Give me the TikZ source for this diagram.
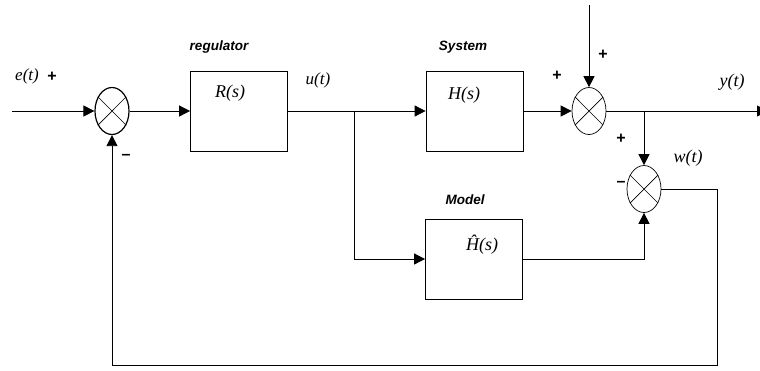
\documentclass[tikz,border=0pt]{standalone}
\usepackage{fontspec}
\setmainfont{Liberation Serif}
\newfontfamily\lsans{Liberation Sans}
\usetikzlibrary{arrows.meta,shapes.geometric}
\tikzset{
  blk/.style={draw,minimum width=97pt,minimum height=80pt,inner sep=0pt,line width=.8pt},
  sum/.style={draw,ellipse,minimum width=34pt,minimum height=47pt,inner sep=0pt,line width=.7pt},
  sig/.style={-{Triangle[length=11pt,width=11pt]},line width=.8pt},
  tf/.style={font=\fontsize{18}{20}\selectfont\itshape,inner sep=0pt},
  var/.style={font=\fontsize{17}{19}\selectfont\itshape,inner sep=0pt},
  tag/.style={font=\lsans\fontsize{13.5}{15}\selectfont\bfseries\itshape,inner sep=0pt},
  sgn/.style={font=\lsans\fontsize{16}{18}\selectfont\bfseries,inner sep=0pt}
}
\begin{document}
\begin{tikzpicture}[x=1pt,y=-1pt]
   \useasboundingbox (0,0) rectangle (760,370);

   % blocks and summing points
   \node[blk] (R) at (239,111) {};
   \node[blk] (H) at (474.5,111) {};
   \node[blk] (Hm) at (474,259) {};
   \node[sum,line width=1.2pt] (s1) at (112,111) {};
   \node[sum] (s2) at (589,111) {};
   \node[sum] (s3) at (644,189) {};
   \foreach \s in {s1,s2,s3}
     \draw[line width=.7pt] (\s.45) -- (\s.225) (\s.135) -- (\s.315);

   \coordinate (in) at (12,111);
   \coordinate (br) at (354,111);
   \coordinate (dist) at (589,5);
   \coordinate (out) at (768,111);
   \coordinate (yb) at (644,111);
   \coordinate (fb) at (717,365);

   % signal lines
   \draw[sig] (in) -- (s1);
   \draw[sig] (s1) -- (R);
   \draw[sig] (R) -- (H);
   \draw[sig] (br) |- (Hm);
   \draw[sig] (H) -- (s2);
   \draw[sig] (dist) -- (s2);
   \draw[sig] (s2) -- (out);
   \draw[sig] (yb) -- (s3);
   \draw[sig] (Hm) -| (s3);
   \draw[sig] (s3) -| (fb) -| (s1);

   % labels
   \node[var] (e) at (27,76) {e(t)};
   \node[sgn] (pe) at (52,77) {+};
   \node[sgn] (m1) at (126,157) {–};
   \node[tag] (treg) at (219,47) {regulator};
   \node[tf] (tR) at (230,93) {R(s)};
   \node[var] (u) at (318,80) {u(t)};
   \node[tag] (tsys) at (463,47) {System};
   \node[tf] (tH) at (464,95) {H(s)};
   \node[tag] (tmod) at (465,200) {Model};
   \node[tf] (tHm) at (482,245) {Ĥ(s)};
   \node[sgn] (p2a) at (557,76) {+};
   \node[sgn] (p2b) at (603,55) {+};
   \node[tf] (y) at (732,82) {y(t)};
   \node[sgn] (p3) at (621,139) {+};
   \node[tf] (w) at (688,158) {w(t)};
   \node[sgn] (m3) at (621,184) {–};
\end{tikzpicture}
\end{document}
